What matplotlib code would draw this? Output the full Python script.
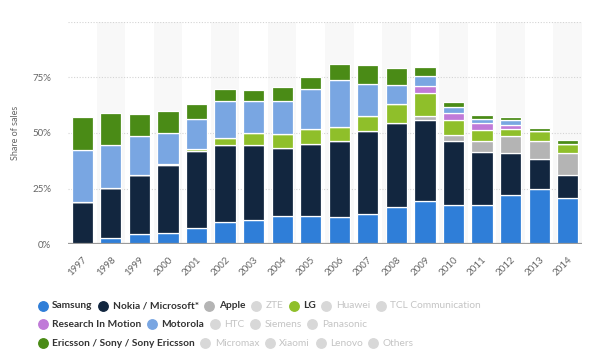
import matplotlib
matplotlib.use("Agg")
import matplotlib.pyplot as plt
import numpy as np

years = ["1997", "1998", "1999", "2000", "2001", "2002", "2003", "2004", "2005",
         "2006", "2007", "2008", "2009", "2010", "2011", "2012", "2013", "2014"]

samsung  = [0.0, 2.5, 4.4, 4.8, 7.1, 9.8, 10.7, 12.7, 12.7, 12.0, 13.6, 16.6, 19.4, 17.6, 17.6, 22.1, 24.7, 20.9]
nokia    = [19.0, 22.7, 26.8, 30.6, 34.9, 34.6, 34.0, 30.5, 32.3, 34.2, 37.1, 37.9, 36.6, 28.9, 23.8, 18.9, 13.7, 10.3]
apple    = [0, 0, 0, 0, 0, 0, 0, 0, 0, 0, 0, 0, 1.8, 2.8, 5.1, 7.5, 8.1, 9.8]
lg       = [0, 0, 0, 0.6, 0.6, 3.3, 5.3, 6.4, 6.8, 6.5, 6.8, 8.6, 10.3, 6.5, 5.0, 3.2, 4.4, 4.2]
rim      = [0, 0, 0, 0, 0, 0, 0, 0, 0, 0, 0, 0, 2.9, 3.4, 2.8, 1.8, 0, 0]
motorola = [23.3, 19.2, 17.3, 14.0, 13.7, 16.9, 14.6, 15.0, 17.8, 21.0, 14.7, 8.7, 4.8, 2.4, 2.2, 2.2, 0, 0]
ericsson = [14.9, 14.8, 10.1, 9.8, 6.8, 5.1, 4.8, 6.3, 5.7, 7.2, 8.4, 7.3, 3.9, 2.5, 1.8, 1.5, 1.4, 1.5]

series = [
    ("Samsung", samsung, "#2f7ed8"),
    ("Nokia / Microsoft*", nokia, "#12263f"),
    ("Apple", apple, "#b4b4b4"),
    ("LG", lg, "#8fbf2a"),
    ("Research In Motion", rim, "#c07ad8"),
    ("Motorola", motorola, "#79a6e2"),
    ("Ericsson / Sony / Sony Ericsson", ericsson, "#4a8b16"),
]

legend_rows = [
    [("Samsung", True), ("Nokia / Microsoft*", True), ("Apple", True), ("ZTE", False),
     ("LG", True), ("Huawei", False), ("TCL Communication", False)],
    [("Research In Motion", True), ("Motorola", True), ("HTC", False), ("Siemens", False),
     ("Panasonic", False)],
    [("Ericsson / Sony / Sony Ericsson", True), ("Micromax", False), ("Xiaomi", False),
     ("Lenovo", False), ("Others", False)],
]
yticks = [0, 25, 50, 75]
ytick_labels = ["0%", "25%", "50%", "75%"]

W, H = 597, 354
plt.rcParams['font.family'] = ['Lato', 'DejaVu Sans']
fig = plt.figure(figsize=(W / 100, H / 100), dpi=100)
ax = fig.add_axes([68 / W, 1 - 244 / H, (582 - 68) / W, (244 - 22) / H])

x = np.arange(len(years))
ax.set_xlim(-0.5, len(years) - 0.5)
ax.set_ylim(0, 100)

for i in x:
    if i % 2 == 1:
        ax.axvspan(i - 0.5, i + 0.5, color="#f8f8f8", zorder=0, lw=0)

for yv in [25, 50, 75, 100]:
    ax.axhline(yv, color="#d4d4d4", lw=0.8, ls=(0, (1, 1.5)), zorder=1)

bottom = np.zeros(len(years))
for name, vals, col in series:
    v = np.array(vals, dtype=float)
    ax.bar(x, v, bottom=bottom, width=0.74, color=col, edgecolor="white",
           linewidth=0.9, zorder=3)
    bottom += v

ax.axhline(0, color="#9a9a9a", lw=1.6, zorder=4)

for s in ax.spines.values():
    s.set_visible(False)
ax.set_yticks(yticks)
ax.set_yticklabels(ytick_labels, color="#666666", fontsize=7)
ax.tick_params(axis="y", length=0, pad=12)
ax.set_xticks(x)
ax.set_xticklabels(years, rotation=45, ha="right", rotation_mode="anchor",
                   color="#666666", fontsize=7)
ax.tick_params(axis="x", length=0, pad=8)
ax.set_ylabel("Share of sales", color="#666666", fontsize=6.5, labelpad=9)

# legend (flow layout)
fig.canvas.draw()
renderer = fig.canvas.get_renderer()
color_map = {name: col for name, _, col in series}
row_y = [305.7, 324.3, 343.3]
for ry, row in zip(row_y, legend_rows):
    cx = 42.7
    for label, active in row:
        ccol = color_map[label] if active else "#d8d8d8"
        fig.add_artist(plt.Line2D([cx / W], [1 - ry / H], marker="o", markersize=6.8,
                                  color=ccol, transform=fig.transFigure, lw=0))
        t = fig.text((cx + 9.5) / W, 1 - ry / H, label, fontsize=7.3,
                     fontweight="bold" if active else "normal",
                     color="#333333" if active else "#c4c4c4", va="center", ha="left")
        bb = t.get_window_extent(renderer)
        cx = bb.x1 + 10.5

fig.savefig("out.png", dpi=100)
